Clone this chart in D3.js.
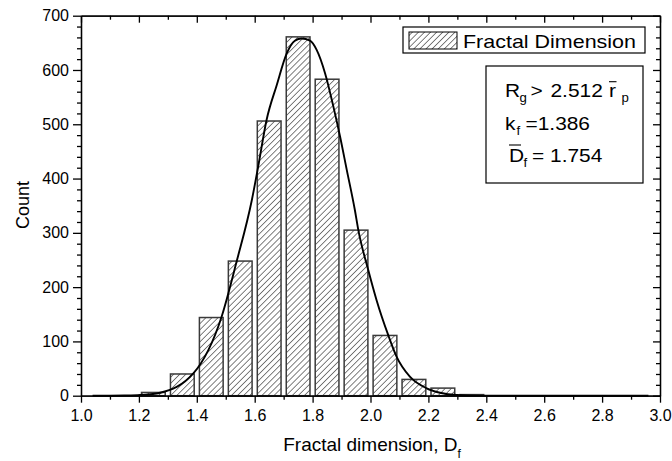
<!DOCTYPE html>
<html><head><meta charset="utf-8">
<script src="https://cdn.jsdelivr.net/npm/d3@7"></script>
<style>
html,body{margin:0;padding:0;background:#fff;}
svg{display:block;font-family:"Liberation Sans",Arial,sans-serif;}
</style></head>
<body>
<svg id="chart" width="672" height="461"></svg>
<script>
// ---- data ----
const binCenters = [1.25,1.35,1.45,1.55,1.65,1.75,1.85,1.95,2.05,2.15,2.25,2.35];
const counts     = [6,40,144,248,506,661,583,305,111,30,14,2];
const fitX = [1.04,1.10,1.15,1.204,1.273,1.388,1.486,1.538,1.590,1.612,1.641,1.676,1.711,1.739,1.762,1.791,1.814,1.843,1.872,1.895,1.918,1.946,1.958,1.992,2.021,2.061,2.090,2.136,2.194,2.240,2.298,2.378,2.50,2.70,2.96];
const fitY = [0,0,0.3,1.3,5.5,41,146,248,360,422,508,572,631,654,658,654,637,594,532,477,416,342,305,232,176,112,72,35,13.6,5.5,1.3,0.2,0,0,0];
const xMajorTicks = [1.0,1.2,1.4,1.6,1.8,2.0,2.2,2.4,2.6,2.8,3.0];
const xMinorTicks = [1.1,1.3,1.5,1.7,1.9,2.1,2.3,2.5,2.7,2.9];
const yMajorTicks = [0,100,200,300,400,500,600,700];
const yMinorTicks = [20,40,60,80,120,140,160,180,220,240,260,280,320,340,360,380,420,440,460,480,520,540,560,580,620,640,660,680];
const binWidth = 0.082;
const legendLabel = "Fractal Dimension";
const xTitle = "Fractal dimension, D";
const yTitle = "Count";

// ---- layout ----
const L = 81, R = 660, T = 15.7, B = 395.7;
const svg = d3.select("#chart");
const x = d3.scaleLinear().domain([1,3]).range([L,R]);
const y = d3.scaleLinear().domain([0,700]).range([B,T]);

// hatch pattern
const defs = svg.append("defs");
const pat = defs.append("pattern").attr("id","hatch").attr("patternUnits","userSpaceOnUse")
  .attr("width",4.3).attr("height",4.3).attr("patternTransform","rotate(45)");
pat.append("rect").attr("width",4.3).attr("height",4.3).attr("fill","#fff");
pat.append("line").attr("x1",0).attr("y1",0).attr("x2",0).attr("y2",4.3)
  .attr("stroke","#000").attr("stroke-width",1);

// bars
svg.append("g").selectAll("rect").data(binCenters).join("rect")
  .attr("x",(d)=>x(d-binWidth/2))
  .attr("width",(d)=>x(d+binWidth/2)-x(d-binWidth/2))
  .attr("y",(d,i)=>y(counts[i]))
  .attr("height",(d,i)=>y(0)-y(counts[i]))
  .attr("fill","url(#hatch)").attr("stroke","#3a3a3a").attr("stroke-width",1.5);

// fit curve
const pts = fitX.map((v,i)=>[v,fitY[i]]);
svg.append("path").datum(pts)
  .attr("d",d3.line().x(d=>x(d[0])).y(d=>y(d[1])).curve(d3.curveMonotoneX))
  .attr("fill","none").attr("stroke","#000").attr("stroke-width",1.9);

// axes
function styleAxis(g){ g.selectAll("path,line").attr("stroke","#000").attr("stroke-width",1.3); }
const fmt = d3.format(".1f");
svg.append("g").attr("transform",`translate(0,${B})`)
  .call(d3.axisBottom(x).tickValues(xMajorTicks).tickFormat(fmt).tickSize(7).tickSizeOuter(0).tickPadding(7))
  .call(styleAxis)
  .call(g=>g.selectAll("text").attr("font-size",16).attr("fill","#000").attr("font-family","Liberation Sans, Arial, sans-serif"));
svg.append("g").attr("transform",`translate(0,${B})`)
  .call(d3.axisBottom(x).tickValues(xMinorTicks).tickFormat("").tickSize(4).tickSizeOuter(0))
  .call(styleAxis);
svg.append("g").attr("transform",`translate(0,${T})`)
  .call(d3.axisBottom(x).tickValues(xMajorTicks).tickFormat("").tickSize(7).tickSizeOuter(0))
  .call(styleAxis);
svg.append("g").attr("transform",`translate(0,${T})`)
  .call(d3.axisBottom(x).tickValues(xMinorTicks).tickFormat("").tickSize(4).tickSizeOuter(0))
  .call(styleAxis);
svg.append("g").attr("transform",`translate(${L},0)`)
  .call(d3.axisLeft(y).tickValues(yMajorTicks).tickSize(8).tickSizeOuter(0).tickPadding(4))
  .call(styleAxis)
  .call(g=>g.selectAll("text").attr("font-size",16).attr("fill","#000").attr("font-family","Liberation Sans, Arial, sans-serif"));
svg.append("g").attr("transform",`translate(${L},0)`)
  .call(d3.axisLeft(y).tickValues(yMinorTicks).tickFormat("").tickSize(4).tickSizeOuter(0))
  .call(styleAxis);
svg.append("g").attr("transform",`translate(${R},0)`)
  .call(d3.axisLeft(y).tickValues(yMajorTicks).tickFormat("").tickSize(7).tickSizeOuter(0))
  .call(styleAxis);
svg.append("g").attr("transform",`translate(${R},0)`)
  .call(d3.axisLeft(y).tickValues(yMinorTicks).tickFormat("").tickSize(4).tickSizeOuter(0))
  .call(styleAxis);

// axis titles
const xt = svg.append("text").attr("x",372).attr("y",451).attr("text-anchor","middle")
  .attr("font-size",19).attr("fill","#000");
xt.append("tspan").text(xTitle);
xt.append("tspan").attr("font-size",12).attr("dy",7).text("f");
svg.append("text").attr("transform","translate(29,205) rotate(-90)").attr("text-anchor","middle")
  .attr("font-size",18).attr("fill","#000").text(yTitle);

// legend
svg.append("rect").attr("x",403).attr("y",27).attr("width",242).attr("height",26)
  .attr("fill","#fff").attr("stroke","#000").attr("stroke-width",1.2);
svg.append("rect").attr("x",409).attr("y",32).attr("width",48).attr("height",17)
  .attr("fill","url(#hatch)").attr("stroke","#000").attr("stroke-width",1);
svg.append("text").attr("x",463).attr("y",47.5).attr("font-size",18.5).attr("fill","#000")
  .attr("textLength",173).attr("lengthAdjust","spacingAndGlyphs").text(legendLabel);

// stats box
svg.append("rect").attr("x",486).attr("y",66).attr("width",157).attr("height",117)
  .attr("fill","#fff").attr("stroke","#000").attr("stroke-width",1.2);

const SX = 1.1;
function piece(px, py, txt, size){
  return svg.append("text").attr("transform",`translate(${px},${py}) scale(${SX},1)`)
    .attr("font-size",size).attr("fill","#000").text(txt);
}
function overline(x1,x2,yy){
  svg.append("line").attr("x1",x1).attr("x2",x2).attr("y1",yy).attr("y2",yy)
    .attr("stroke","#000").attr("stroke-width",1.1);
}
// line 1
piece(505, 96.7, "R", 19);
piece(519.5, 102, "g", 12);
piece(530.5, 96.7, ">", 19);
piece(550.5, 96.7, "2.512", 19);
piece(609, 96.7, "r", 19);
overline(609, 616.5, 81.7);
piece(621.5, 102, "p", 12);
// line 2
piece(505, 130, "k", 19);
piece(516.5, 135.3, "f", 12);
piece(525.5, 130, "=1.386", 19);
// line 3
piece(509, 161.7, "D", 19);
overline(509, 521, 145);
piece(523.5, 167, "f", 12);
piece(532, 161.7, "= 1.754", 19);
</script>
</body></html>
